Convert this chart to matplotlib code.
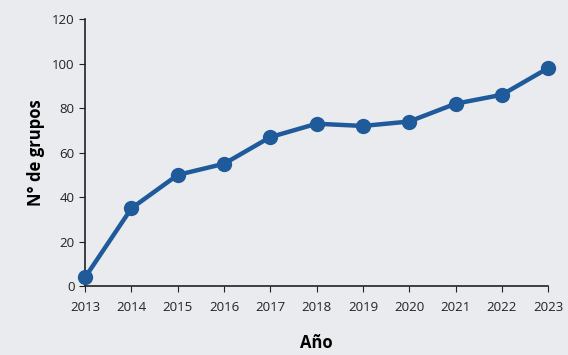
import matplotlib.pyplot as plt

# años y número de grupos
years = [2013, 2014, 2015, 2016, 2017, 2018, 2019, 2020, 2021, 2022, 2023]
groups = [4, 35, 50, 55, 67, 73, 72, 74, 82, 86, 98]
yticks = [0, 20, 40, 60, 80, 100, 120]

plt.rcParams["font.family"] = ["Open Sans", "DejaVu Sans"]

fig = plt.figure(figsize=(5.68, 3.55), dpi=100)
fig.patch.set_facecolor("#e9ebee")
ax = fig.add_axes([0.15, 0.194, 0.815, 0.752])
ax.set_facecolor("#e9ebee")

ax.plot(years, groups, color="#1f5a9a", lw=3.2, marker="o", ms=10,
        clip_on=False, zorder=3)

ax.set_xlim(2013, 2023)
ax.set_ylim(0, 120)
ax.set_xticks(years)
ax.set_yticks(yticks)
ax.tick_params(labelsize=9.5, color="#222222", labelcolor="#222222", length=4)
ax.tick_params(axis="x", pad=7)
for s in ["top", "right"]:
    ax.spines[s].set_visible(False)
for s in ["left", "bottom"]:
    ax.spines[s].set_color("#222222")
    ax.spines[s].set_linewidth(1.2)

ax.set_xlabel("Año", fontsize=12, fontweight="bold", labelpad=14)
ax.set_ylabel("N° de grupos", fontsize=12, fontweight="bold", labelpad=5)

fig.savefig("out.png", dpi=100, facecolor=fig.get_facecolor())
